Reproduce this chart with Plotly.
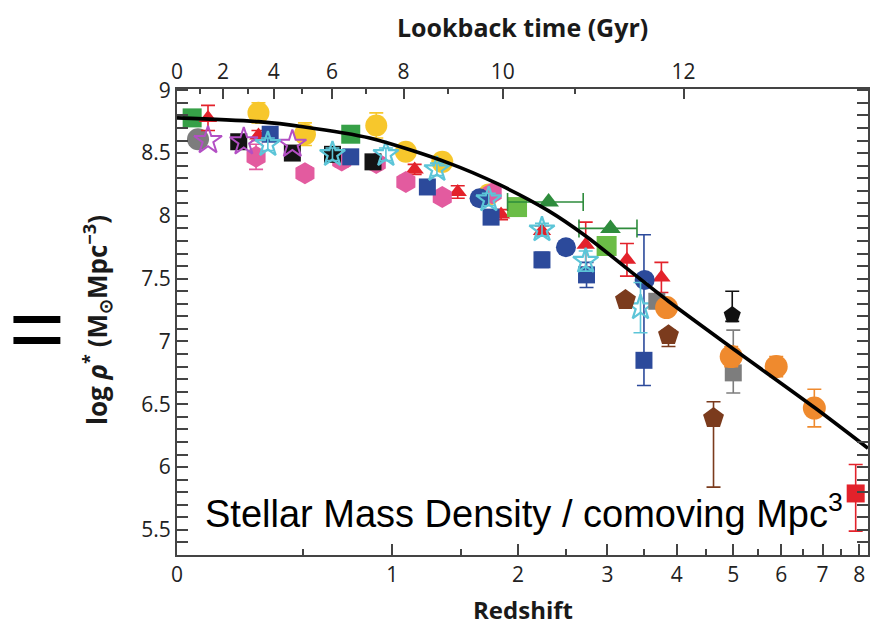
import numpy as np
import plotly.graph_objects as go

# ---- stellar mass density measurements (redshift, log rho*) ----
yellow_z = [0.30, 0.51, 0.90, 1.09, 1.35, 1.73]
yellow_y = [8.82, 8.65, 8.72, 8.51, 8.43, 8.17]
yellow_e = [0.08, 0.09, 0.10, 0.06, 0.06, 0.05]

pink_z = [0.29, 0.51, 0.70, 0.90, 1.09, 1.35, 1.76]
pink_y = [8.47, 8.34, 8.44, 8.42, 8.27, 8.15, 8.18]
pink_e = [0.10, 0.05, 0.05, 0.05, 0.05, 0.05, 0.05]

bluesq_z = [0.35, 0.75, 1.24, 1.75, 2.24, 2.74, 3.50]
bluesq_y = [8.65, 8.47, 8.23, 7.99, 7.65, 7.53, 6.85]
bluesq_ep = [0.05, 0.05, 0.05, 0.05, 0.06, 0.10, 1.00]
bluesq_em = [0.05, 0.05, 0.05, 0.05, 0.06, 0.10, 0.20]

bluec_z = [1.65, 2.50, 3.51]
bluec_y = [8.14, 7.75, 7.49]

cyan_z = [0.34, 0.65, 0.96, 1.31, 1.73, 2.24, 2.73, 3.45]
cyan_y = [8.57, 8.49, 8.49, 8.37, 8.13, 7.89, 7.64, 7.27]
cyan_e = [0.05, 0.05, 0.05, 0.05, 0.05, 0.05, 0.08, 0.20]

purple_z = [0.105, 0.24, 0.45]
purple_y = [8.60, 8.59, 8.57]

blacksq_z = [0.22, 0.45, 0.65, 0.88]
blacksq_y = [8.59, 8.50, 8.49, 8.43]

red_z = [0.105, 0.30, 1.15, 1.47, 1.84, 2.24, 2.73, 3.26, 3.76]
red_y = [8.78, 8.64, 8.37, 8.19, 8.01, 7.88, 7.77, 7.65, 7.51]
red_e = [0.10, 0.04, 0.04, 0.05, 0.04, 0.04, 0.18, 0.13, 0.12]

green_z = [0.05, 0.75]
green_y = [8.78, 8.65]

lgreen_z = [1.99, 2.99]
lgreen_y = [8.07, 7.76]

gtri_z = [2.31, 3.04]
gtri_zlo = [1.90, 2.65]
gtri_zhi = [2.70, 3.40]
gtri_y = [8.11, 7.90]

gray_circ_z = [0.07]
gray_circ_y = [8.61]

gray_sq_z = [3.69, 5.00]
gray_sq_y = [7.32, 6.75]
gray_sq_ep = [0.05, 0.34]
gray_sq_em = [0.05, 0.16]

brown_z = [3.24, 3.87, 4.63]
brown_y = [7.33, 7.05, 6.39]
brown_ep = [0.03, 0.04, 0.13]
brown_em = [0.03, 0.09, 0.55]

blackpent_z = [4.98]
blackpent_y = [7.21]
blackpent_ep = [0.19]
blackpent_em = [0.05]

orange_z = [3.84, 4.96, 5.89, 6.79]
orange_y = [7.27, 6.88, 6.80, 6.47]
orange_e = [0.05, 0.08, 0.08, 0.15]

redsq_z = [7.90]
redsq_y = [5.79]
redsq_ep = [0.23]
redsq_em = [0.30]

# model curve sampled along redshift
curve_z = [0.0, 0.30, 0.50, 0.86, 1.40, 1.82, 2.31, 2.73, 3.24, 3.87, 4.97, 6.81, 8.26]
curve_y = [8.78, 8.75, 8.71, 8.62, 8.42, 8.25, 8.04, 7.84, 7.59, 7.32, 6.95, 6.47, 6.15]

z_ticks = [0, 1, 2, 3, 4, 5, 6, 7, 8]
z_minor = [0.5, 1.5, 2.5, 3.5, 4.5, 5.5, 6.5, 7.5]
lookback_major = [0, 2, 4, 6, 8, 10, 12]
lookback_minor = [1, 3, 5, 7, 9, 11, 13]


def lz(z):
    return np.log10(1.0 + np.asarray(z, dtype=float))


# flat LCDM lookback time (H0=70, Om=0.3) to place the top axis
zz = np.linspace(0, 30, 60001)
E = np.sqrt(0.3 * (1 + zz) ** 3 + 0.7)
f = 1.0 / ((1 + zz) * E)
tl = np.concatenate([[0], np.cumsum(0.5 * (f[1:] + f[:-1]) * np.diff(zz))]) * 977.8 / 70.0


def z_of_t(t):
    return np.interp(t, tl, zz)


XMAX = lz(8.26)

fig = go.Figure()


def add_pts(z, y, color, symbol, size, ep=None, em=None, lw=0, ex=None):
    marker = dict(color=color, symbol=symbol, size=size, line=dict(width=lw, color=color))
    tr = go.Scatter(x=lz(z), y=y, mode="markers", marker=marker, showlegend=False, hoverinfo="skip")
    if ep is not None:
        tr.error_y = dict(type="data", array=ep, arrayminus=em if em is not None else ep,
                          color=color, thickness=1.6, width=7, symmetric=em is None)
    if ex is not None:
        tr.error_x = ex
    fig.add_trace(tr)


add_pts(gray_circ_z, gray_circ_y, "#7d7d7d", "circle", 22)
add_pts(green_z, green_y, "#36a047", "square", 19)
add_pts(red_z, red_y, "#e3222b", "triangle-up", 16, red_e)
add_pts(yellow_z, yellow_y, "#f7c72c", "circle", 22, yellow_e)
add_pts(pink_z, pink_y, "#e35b9f", "hexagon", 22, pink_e)
add_pts(blacksq_z, blacksq_y, "#141414", "square", 17, [0.03] * 4)
add_pts(bluesq_z, bluesq_y, "#2c4a9b", "square", 17, bluesq_ep, bluesq_em)
add_pts(bluec_z, bluec_y, "#2c4a9b", "circle", 20)
add_pts(purple_z, purple_y, "#b34fc4", "star-open", 21, lw=2)
add_pts(cyan_z, cyan_y, "#5cc5d8", "star-open", 19, cyan_e, lw=2.2)
add_pts(lgreen_z, lgreen_y, "#6bbd47", "square", 20)
gx = lz(gtri_z)
add_pts(gtri_z, gtri_y, "#2e8c3c", "triangle-up", 18,
        ex=dict(type="data", array=list(lz(gtri_zhi) - gx), arrayminus=list(gx - lz(gtri_zlo)),
                symmetric=False, color="#2e8c3c", thickness=1.6, width=9))
add_pts(gray_sq_z, gray_sq_y, "#7d7d7d", "square", 17, gray_sq_ep, gray_sq_em)
add_pts(orange_z, orange_y, "#ef8a2e", "circle", 23, orange_e)
add_pts(brown_z, brown_y, "#7b3b1d", "pentagon", 22, brown_ep, brown_em)
add_pts(blackpent_z, blackpent_y, "#111111", "pentagon", 18, blackpent_ep, blackpent_em)
add_pts(redsq_z, redsq_y, "#e3222b", "square", 18, redsq_ep, redsq_em)

fig.add_trace(go.Scatter(x=lz(curve_z), y=curve_y, mode="lines",
                         line=dict(color="black", width=3.6, shape="spline", smoothing=0.8),
                         showlegend=False, hoverinfo="skip"))
# anchor trace for the lookback-time axis
fig.add_trace(go.Scatter(x=lz(curve_z), y=curve_y, xaxis="x2", mode="lines", line=dict(width=0),
                         opacity=0, showlegend=False, hoverinfo="skip"))

tick_font = dict(family="Open Sans", size=21, color="#222")
axis_color = "#444"

fig.update_layout(
    width=875, height=631,
    margin=dict(l=177, r=5, t=89, b=76),
    paper_bgcolor="white", plot_bgcolor="white",
    xaxis=dict(range=[0, XMAX], tickmode="array", tickvals=list(lz(z_ticks)), ticktext=[str(v) for v in z_ticks],
               ticks="inside", ticklen=11, tickwidth=1.5, tickcolor=axis_color,
               minor=dict(tickmode="array", tickvals=list(lz(z_minor)), ticks="inside", ticklen=6,
                          tickwidth=1.5, tickcolor=axis_color),
               showline=True, linecolor=axis_color, linewidth=2, mirror=False,
               showgrid=False, zeroline=False, tickfont=tick_font),
    xaxis2=dict(range=[0, XMAX], overlaying="x", side="top", anchor="y", tickmode="array",
                tickvals=list(lz(z_of_t(np.array(lookback_major, float)))),
                ticktext=[str(v) for v in lookback_major],
                ticks="inside", ticklen=10, tickwidth=1.5, tickcolor=axis_color,
                minor=dict(tickmode="array", tickvals=list(lz(z_of_t(np.array(lookback_minor, float)))),
                           ticks="inside", ticklen=5, tickwidth=1.5, tickcolor=axis_color),
                showline=True, linecolor=axis_color, linewidth=2,
                showgrid=False, zeroline=False, tickfont=tick_font),
    yaxis=dict(range=[5.30, 9.01], tickmode="array", tickvals=[5.5, 6, 6.5, 7, 7.5, 8, 8.5, 9],
               ticktext=["5.5", "6", "6.5", "7", "7.5", "8", "8.5", "9"],
               ticks="inside", ticklen=11, tickwidth=1.5, tickcolor=axis_color,
               minor=dict(dtick=0.1, tick0=5.0, ticks="inside", ticklen=5, tickwidth=1.5, tickcolor=axis_color),
               showline=True, linecolor=axis_color, linewidth=2, mirror="allticks",
               showgrid=False, zeroline=False, tickfont=tick_font),
)

fig.add_annotation(text="<b>Lookback time (Gyr)</b>", xref="paper", yref="paper", x=0.5, y=1.133,
                   showarrow=False, font=dict(family="Open Sans", size=25, color="#1a1a1a"),
                   xanchor="center", yanchor="middle")
fig.add_annotation(text="<b>Redshift</b>", xref="paper", yref="paper", x=0.5, y=-0.118,
                   showarrow=False, font=dict(family="Open Sans", size=24, color="#1a1a1a"),
                   xanchor="center", yanchor="middle")
fig.add_annotation(text="<b>log <i>ρ</i><sup>*</sup> (M<sub>⊙</sub>Mpc<sup>−3</sup>)</b>", xref="paper", yref="paper",
                   x=-0.116, y=0.504, textangle=-90, showarrow=False,
                   font=dict(family="Open Sans", size=26, color="#1a1a1a"), xanchor="center", yanchor="middle")
fig.add_annotation(text="Stellar Mass Density / comoving Mpc<sup>3</sup>", xref="paper", yref="paper",
                   x=0.038, y=0.094, showarrow=False, xanchor="left", yanchor="middle",
                   font=dict(family="Liberation Sans", size=38, color="black"))

# equals sign at the left edge
for y0, y1 in [(0.498, 0.513), (0.453, 0.468)]:
    fig.add_shape(type="rect", xref="paper", yref="paper", x0=-0.2367, x1=-0.1688, y0=y0, y1=y1,
                  fillcolor="black", line=dict(width=0))

fig.write_html("out.html")
